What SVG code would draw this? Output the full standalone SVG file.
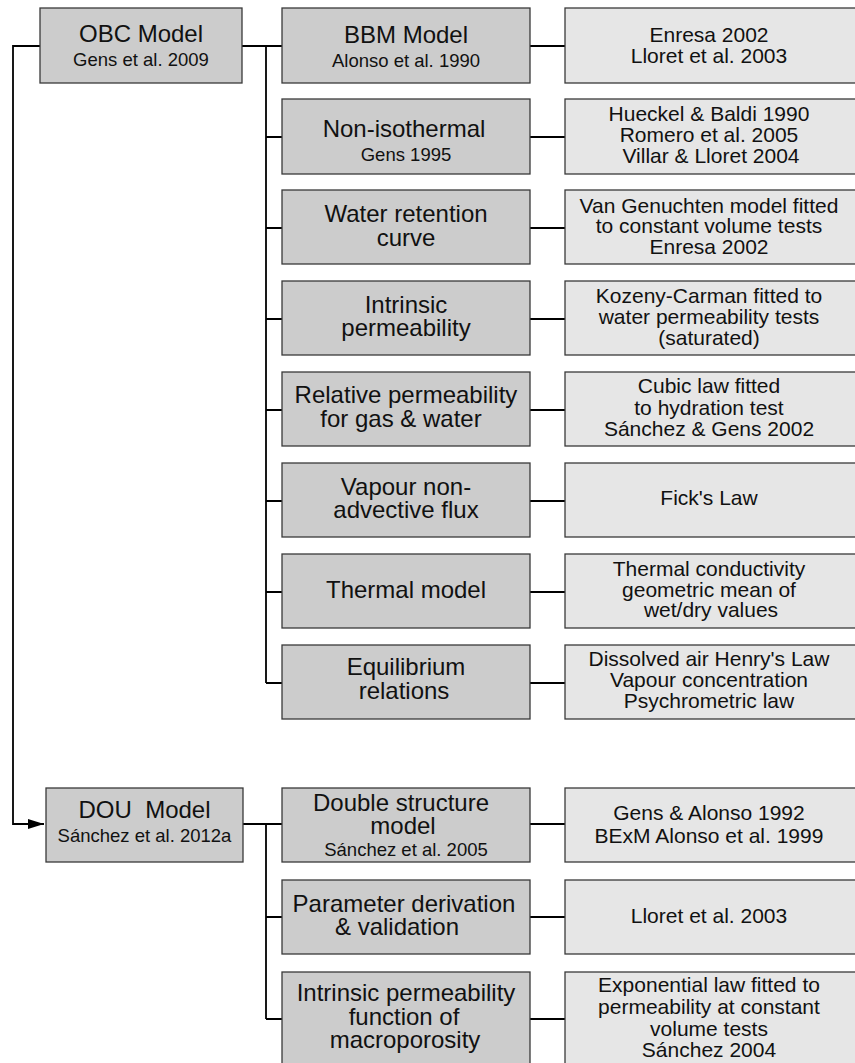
<svg xmlns="http://www.w3.org/2000/svg" width="855" height="1063" viewBox="0 0 855 1063">
<style>
.m{fill:#cccccc;stroke:#3a3a3a;stroke-width:1.3}
.r{fill:#e6e6e6;stroke:#3a3a3a;stroke-width:1.3}
.c{fill:none;stroke:#000;stroke-width:1.8}
text{font-family:"Liberation Sans",Arial,sans-serif;fill:#111;text-anchor:middle}
.t{font-size:24px}
.s{font-size:18.5px}
.q{font-size:21px}
</style>
<defs>
<marker id="arr" viewBox="0 0 16 10" refX="16" refY="5" markerWidth="16" markerHeight="10" markerUnits="userSpaceOnUse" orient="auto">
<path d="M0,0 L16,5 L0,10 Z" fill="#000"/>
</marker>
</defs>
<g id="connectors">
<path class="c" d="M40,46 H13 V824 H44" marker-end="url(#arr)"/>
<path class="c" d="M242,46 H282 M266,46 V683 M266,137 H282 M266,228 H282 M266,319 H282 M266,410 H282 M266,501 H282 M266,592 H282 M266,683 H282"/>
<path class="c" d="M530,46 H565 M530,137 H565 M530,228 H565 M530,319 H565 M530,410 H565 M530,501 H565 M530,592 H565 M530,683 H565"/>
<path class="c" d="M243,824 H282 M266,824 V1019 M266,917 H282 M266,1019 H282"/>
<path class="c" d="M530,824 H565 M530,917 H565 M530,1019 H565"/>
</g>
<g id="obc"><rect class="m" x="40" y="8" width="202" height="75"/><text class="t" x="141" y="41.5">OBC Model</text><text class="s" x="141" y="65.5">Gens et al. 2009</text></g>
<g id="bbm"><rect class="m" x="282" y="8" width="248" height="75"/><text class="t" x="406" y="43">BBM Model</text><text class="s" x="406" y="66.5">Alonso et al. 1990</text></g>
<g id="bbm-ref"><rect class="r" x="565" y="8" width="292" height="75"/><text class="q" x="709" y="41.5">Enresa 2002</text><text class="q" x="709" y="62.5">Lloret et al. 2003</text></g>
<g id="noniso"><rect class="m" x="282" y="99" width="248" height="75"/><text class="t" x="404" y="137">Non-isothermal</text><text class="s" x="406" y="161">Gens 1995</text></g>
<g id="noniso-ref"><rect class="r" x="565" y="99" width="292" height="75"/><text class="q" x="709" y="120.7">Hueckel &amp; Baldi 1990</text><text class="q" x="709" y="141.7">Romero et al. 2005</text><text class="q" x="711" y="163">Villar &amp; Lloret 2004</text></g>
<g id="wrc"><rect class="m" x="282" y="190" width="248" height="74"/><text class="t" x="406" y="221.7">Water retention</text><text class="t" x="406" y="246">curve</text></g>
<g id="wrc-ref"><rect class="r" x="565" y="190" width="292" height="74"/><text class="q" x="709" y="212.7">Van Genuchten model fitted</text><text class="q" x="709" y="233.3">to constant volume tests</text><text class="q" x="709" y="254.3">Enresa 2002</text></g>
<g id="intperm"><rect class="m" x="282" y="281" width="248" height="74"/><text class="t" x="406" y="312.7">Intrinsic</text><text class="t" x="406" y="336">permeability</text></g>
<g id="intperm-ref"><rect class="r" x="565" y="281" width="292" height="74"/><text class="q" x="709" y="303.3">Kozeny-Carman fitted to</text><text class="q" x="709" y="324">water permeability tests</text><text class="q" x="709" y="345">(saturated)</text></g>
<g id="relperm"><rect class="m" x="282" y="372" width="248" height="74"/><text class="t" x="406" y="403.3">Relative permeability</text><text class="t" x="401" y="427.3">for gas &amp; water</text></g>
<g id="relperm-ref"><rect class="r" x="565" y="372" width="292" height="74"/><text class="q" x="709" y="393.3">Cubic law fitted</text><text class="q" x="709" y="415">to hydration test</text><text class="q" x="709" y="435.7">Sánchez &amp; Gens 2002</text></g>
<g id="vapour"><rect class="m" x="282" y="463" width="248" height="74"/><text class="t" x="406" y="495">Vapour non-</text><text class="t" x="406" y="518.3">advective flux</text></g>
<g id="vapour-ref"><rect class="r" x="565" y="463" width="292" height="74"/><text class="q" x="709" y="505">Fick's Law</text></g>
<g id="thermal"><rect class="m" x="282" y="554" width="248" height="74"/><text class="t" x="406" y="597.7">Thermal model</text></g>
<g id="thermal-ref"><rect class="r" x="565" y="554" width="292" height="74"/><text class="q" x="709" y="576">Thermal conductivity</text><text class="q" x="709" y="596.7">geometric mean of</text><text class="q" x="711" y="616.7">wet/dry values</text></g>
<g id="equil"><rect class="m" x="282" y="645" width="248" height="74"/><text class="t" x="406" y="675.3">Equilibrium</text><text class="t" x="404" y="699.3">relations</text></g>
<g id="equil-ref"><rect class="r" x="565" y="645" width="292" height="74"/><text class="q" x="709" y="666">Dissolved air Henry's Law</text><text class="q" x="709" y="687.3">Vapour concentration</text><text class="q" x="709" y="708.3">Psychrometric law</text></g>
<g id="dou"><rect class="m" x="46" y="788" width="197" height="74"/><text class="t" x="144.5" y="817.7" xml:space="preserve">DOU  Model</text><text class="s" x="144.5" y="841.7">Sánchez et al. 2012a</text></g>
<g id="double"><rect class="m" x="282" y="788" width="248" height="74"/><text class="t" x="401" y="810.7">Double structure</text><text class="t" x="403" y="834.3">model</text><text class="s" x="406" y="855.7">Sánchez et al. 2005</text></g>
<g id="double-ref"><rect class="r" x="565" y="788" width="292" height="74"/><text class="q" x="709" y="820">Gens &amp; Alonso 1992</text><text class="q" x="709" y="842.7">BExM Alonso et al. 1999</text></g>
<g id="param"><rect class="m" x="282" y="880" width="248" height="74"/><text class="t" x="404" y="911.7">Parameter derivation</text><text class="t" x="397" y="935">&amp; validation</text></g>
<g id="param-ref"><rect class="r" x="565" y="880" width="292" height="74"/><text class="q" x="709" y="922.7">Lloret et al. 2003</text></g>
<g id="intfun"><rect class="m" x="282" y="972" width="248" height="94"/><text class="t" x="406" y="1001">Intrinsic permeability</text><text class="t" x="404" y="1025">function of</text><text class="t" x="405" y="1048.3">macroporosity</text></g>
<g id="intfun-ref"><rect class="r" x="565" y="972" width="292" height="94"/><text class="q" x="709" y="991.7">Exponential law fitted to</text><text class="q" x="709" y="1014.3">permeability at constant</text><text class="q" x="709" y="1036">volume tests</text><text class="q" x="709" y="1056.7">Sánchez 2004</text></g>
</svg>
